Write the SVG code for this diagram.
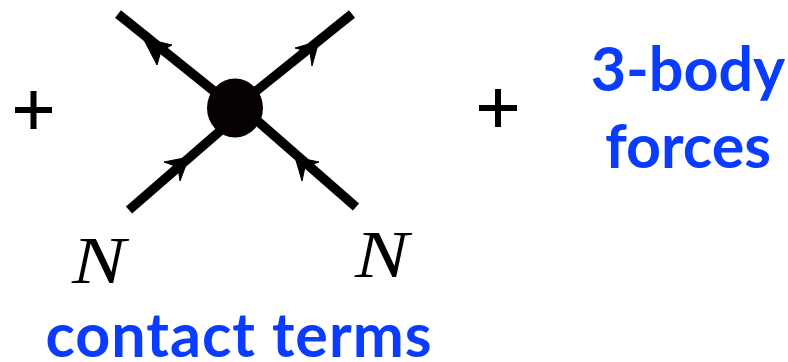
<svg xmlns="http://www.w3.org/2000/svg" width="788" height="362" viewBox="0 0 788 362">
<style>
.l{stroke:#000;stroke-width:9.500;fill:none}
.a{fill:#000;stroke:#000;stroke-width:1;stroke-linejoin:round}
.p{stroke:#000;stroke-width:6;fill:none}
.b{font-family:"Lato","Liberation Sans",sans-serif;font-weight:700;fill:#0a3cff;text-anchor:middle;font-size:61px}
.n{font-family:"Liberation Serif",serif;font-style:italic;font-size:68px;fill:#000}
</style>
<rect width="788" height="362" fill="#fff"/>
<g id="connectors">
<path class="l" d="M118 14L235 108"/>
<path class="l" d="M352 14L235 108"/>
<path class="l" d="M129 210L235 118"/>
<path class="l" d="M356 207L245 110"/>
<polygon class="a" points="143,38 172,45 161,51 157,65"/>
<polygon class="a" points="319,41 295,48 310,52 312,66"/>
<polygon class="a" points="189,157 164,162 178,167 180,181"/>
<polygon class="a" points="295,157 319,162 305,167 302,181"/>
</g>
<g id="vertex"><ellipse cx="235" cy="108" rx="28" ry="29.500" fill="#060000"/></g>
<g id="plus-left"><path class="p" d="M15 110H52M33.500 91V129"/></g>
<g id="plus-right"><path class="p" d="M479 108H517M498 89V127"/></g>
<g id="label-n-left"><text class="n" transform="translate(72 283) scale(1.180 1)">N</text></g>
<g id="label-n-right"><text class="n" transform="translate(355 277) scale(1.180 1)">N</text></g>
<g id="label-contact"><text class="b" x="239" y="357" style="letter-spacing:1px">contact terms</text></g>
<g id="label-3body"><text class="b" x="688" y="91">3-body</text></g>
<g id="label-forces"><text class="b" x="688" y="168">forces</text></g>
</svg>
